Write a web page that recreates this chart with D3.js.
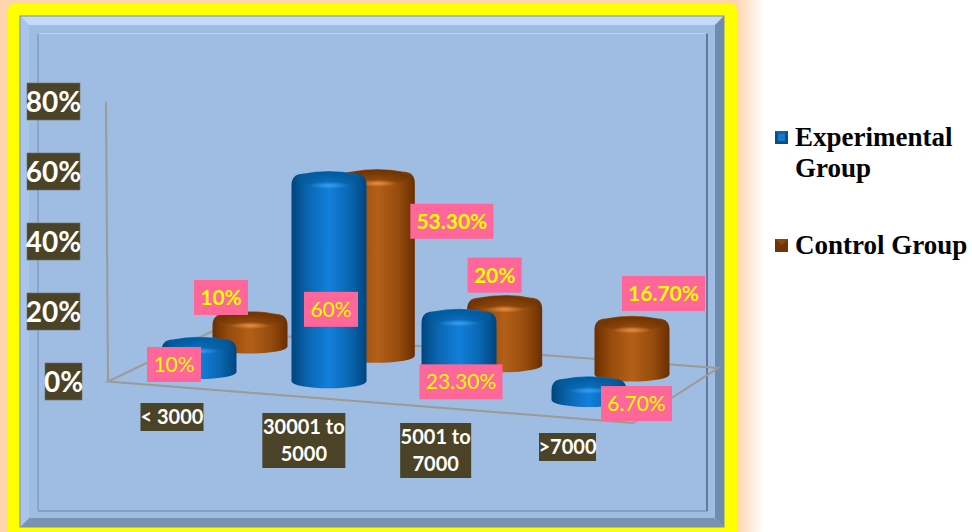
<!DOCTYPE html>
<html>
<head>
<meta charset="utf-8">
<script src="https://cdn.jsdelivr.net/npm/d3@7"></script>
<style>
html, body { margin: 0; padding: 0; background: #fff; }
svg { display: block; }
</style>
</head>
<body>
<svg id="chart" width="972" height="532"></svg>
<script>
// Chart data
const categories = ["< 3000", "30001 to 5000", "5001 to 7000", ">7000"];
const categoryLines = [["< 3000"], ["30001 to", "5000"], ["5001 to", "7000"], [">7000"]];
const seriesNames = ["Experimental Group", "Control Group"];
const experimental = [10, 60, 23.3, 6.7];
const control = [10, 53.3, 20, 16.7];
const experimentalLabels = ["10%", "60%", "23.30%", "6.70%"];
const controlLabels = ["10%", "53.30%", "20%", "16.70%"];
const axisTicks = [0, 20, 40, 60, 80];

// Label box offsets from each cylinder's top-centre
const experimentalLabelOffsets = [[-25, 20.5], [2, 131], [2, 65.7], [47.5, 20]];
const controlLabelOffsets = [[-29, -21], [74.5, 45], [-10, -27], [31.5, -29.5]];

const svg = d3.select("#chart");
const defs = svg.append("defs");

// Projected floor: each series runs along its own line on the floor
const cxBySeries = {
  [seriesNames[0]]: d3.scalePoint().domain(categories).range([199, 589]),
  [seriesNames[1]]: d3.scalePoint().domain(categories).range([250, 632])
};
const baseY = d3.scalePoint().domain(categories).range([379, 407]);
const depthY = d3.scalePoint().domain(seriesNames).range([0, -25.5]);
const labelX = d3.scalePoint().domain(categories).range([172, 567.5]);
const labelTop = d3.scalePoint().domain(categories).range([403, 433]);
const y = d3.scaleLinear().domain([0, 80]).range([381.5, 101.5]);
const height = v => y(0) - y(v);

const palette = {
  [seriesNames[0]]: { edge: "#00457f", mid: "#0a66b0", light: "#1180dc", cap: "#005a9c", glow: "#3aa0f0" },
  [seriesNames[1]]: { edge: "#6a2e00", mid: "#964c0c", light: "#b45f18", cap: "#6c3200", glow: "#e89448" }
};

seriesNames.forEach((name, i) => {
  const p = palette[name];
  const body = defs.append("linearGradient").attr("id", "body" + i);
  [[0, p.edge], [0.22, p.mid], [0.5, p.light], [0.78, p.mid], [1, p.edge]].forEach(([o, c]) =>
    body.append("stop").attr("offset", o).attr("stop-color", c));
  const glow = defs.append("radialGradient").attr("id", "glow" + i);
  glow.append("stop").attr("offset", 0).attr("stop-color", p.glow).attr("stop-opacity", 0.95);
  glow.append("stop").attr("offset", 1).attr("stop-color", p.glow).attr("stop-opacity", 0);
  const shade = defs.append("linearGradient").attr("id", "cap" + i)
    .attr("x1", 0).attr("x2", 0).attr("y1", 0).attr("y2", 1);
  shade.append("stop").attr("offset", 0).attr("stop-color", p.cap);
  shade.append("stop").attr("offset", 1).attr("stop-color", p.cap).attr("stop-opacity", 0.25);
});

// Page surround
svg.append("rect").attr("width", 972).attr("height", 532).attr("fill", "#fff");
svg.append("rect").attr("width", 738).attr("height", 532).attr("fill", "#ffd5ae");
const fadeRight = defs.append("linearGradient").attr("id", "fadeRight");
fadeRight.append("stop").attr("offset", 0).attr("stop-color", "#ffd5ae");
fadeRight.append("stop").attr("offset", 1).attr("stop-color", "#fff");
svg.append("rect").attr("x", 737).attr("width", 26).attr("height", 532).attr("fill", "url(#fadeRight)");
svg.append("rect").attr("x", 8).attr("y", 4).attr("width", 729).attr("height", 540).attr("rx", 6).attr("fill", "#ffff00");

// Bevelled panel
const panel = { x0: 20, y0: 16, x1: 724, y1: 527, bevel: 9 };
const bevelGroup = svg.append("g");
const poly = pts => "M" + pts.map(p => p.join(",")).join("L") + "Z";
const { x0, y0, x1, y1, bevel } = panel;
bevelGroup.append("rect").attr("x", x0).attr("y", y0).attr("width", x1 - x0).attr("height", y1 - y0).attr("fill", "#9fbce2");
bevelGroup.append("path").attr("d", poly([[x0, y0], [x1, y0], [x1 - bevel, y0 + bevel], [x0 + bevel, y0 + bevel]])).attr("fill", "#c3dafa");
bevelGroup.append("path").attr("d", poly([[x1, y0], [x1, y1], [x1 - bevel, y1 - bevel], [x1 - bevel, y0 + bevel]])).attr("fill", "#6f8bad");
bevelGroup.append("path").attr("d", poly([[x0, y1], [x1, y1], [x1 - bevel, y1 - bevel], [x0 + bevel, y1 - bevel]])).attr("fill", "#7a93b4");
bevelGroup.append("path").attr("d", poly([[x0, y0], [x0, y1], [x0 + bevel, y1 - bevel], [x0 + bevel, y0 + bevel]])).attr("fill", "#a9c5ea");
svg.append("rect").attr("x", x0).attr("y", y0).attr("width", x1 - x0).attr("height", y1 - y0).attr("fill", "none").attr("stroke", "#7f8f9f").attr("stroke-width", 1);

// Inset frame
const inner = { x0: 38, y0: 33.5, x1: 707, y1: 511 };
svg.append("path").attr("d", `M${inner.x0},${inner.y0}H${inner.x1}`).attr("fill", "none").attr("stroke", "#b7d0f0").attr("stroke-width", 1.2);
svg.append("path").attr("d", `M${inner.x0},${inner.y0}V${inner.y1}`).attr("fill", "none").attr("stroke", "#7c95b8").attr("stroke-width", 1.2);
svg.append("path").attr("d", `M${inner.x0},${inner.y1}H${inner.x1}`).attr("fill", "none").attr("stroke", "#7d96b9").attr("stroke-width", 1.6);
svg.append("path").attr("d", `M${inner.x1},${inner.y0}V${inner.y1}`).attr("fill", "none").attr("stroke", "#55688a").attr("stroke-width", 1.6);

// Floor and vertical wall line
const floorCorners = [[108, 381.5], [633, 423], [718, 368], [213, 331]];
const lineGen = d3.line();
svg.append("path").attr("d", lineGen(floorCorners) + "Z").attr("fill", "none").attr("stroke", "#9b9b93").attr("stroke-width", 2);
svg.append("line").attr("x1", 106).attr("y1", y(80)).attr("x2", 108).attr("y2", y(0)).attr("stroke", "#9b9b93").attr("stroke-width", 2);

// Cylinders: control series sits behind the experimental one
const RX = 37.5, RY = 7;
const rows = (name, values) => categories.map((c, i) => ({
  c, i, name, value: values[i],
  x: cxBySeries[name](c),
  bottom: baseY(c) + depthY(name)
}));

function drawCylinders(name, values, idx) {
  const g = svg.append("g").attr("class", "series-" + idx);
  const cyl = g.selectAll("g").data(rows(name, values)).join("g");
  const topY = d => d.bottom - height(d.value);
  // Body with rounded shoulders and elliptical foot
  cyl.append("path")
    .attr("d", d => {
      const t = topY(d), l = d.x - RX, r = d.x + RX, s = Math.min(7, height(d.value) * 0.3);
      return `M${l},${t + s}Q${l},${t - 4} ${l + 11},${t - 4.5}Q${d.x},${t - 10} ${r - 11},${t - 4.5}Q${r},${t - 4} ${r},${t + s}` +
        `L${r},${d.bottom - RY}A${RX},${RY} 0 0 1 ${l},${d.bottom - RY}Z`;
    })
    .attr("fill", `url(#body${idx})`);
  // Darker top face
  cyl.append("ellipse")
    .attr("cx", d => d.x).attr("cy", d => topY(d) + 0.5)
    .attr("rx", RX - 6).attr("ry", 7)
    .attr("fill", `url(#cap${idx})`);
  // Highlight on the shoulder
  cyl.append("ellipse")
    .attr("cx", d => d.x).attr("cy", d => topY(d) + 7)
    .attr("rx", 20).attr("ry", 3.5)
    .attr("fill", `url(#glow${idx})`);
}
drawCylinders(seriesNames[1], control, 1);
drawCylinders(seriesNames[0], experimental, 0);

// Value labels
function drawValueLabels(name, values, texts, offsets, weight) {
  const data = rows(name, values).map(d => ({ ...d, text: texts[d.i], off: offsets[d.i] }));
  const g = svg.append("g").selectAll("g").data(data).join("g")
    .attr("transform", d => `translate(${d.x + d.off[0]},${d.bottom - height(d.value) + d.off[1]})`);
  const w = t => t.length > 3 ? (t.length > 5 ? 83 : 71) : 54;
  g.append("rect").attr("x", d => -w(d.text) / 2).attr("y", -17.5).attr("width", d => w(d.text)).attr("height", 35).attr("fill", "#ff6699");
  g.append("text").attr("text-anchor", "middle").attr("y", 7.5)
    .attr("font-family", "Lato, Carlito, sans-serif").attr("font-size", 21).attr("font-weight", weight)
    .attr("fill", "#ffff00").text(d => d.text);
}
drawValueLabels(seriesNames[1], control, controlLabels, controlLabelOffsets, 700);
drawValueLabels(seriesNames[0], experimental, experimentalLabels, experimentalLabelOffsets, 400);

// Value axis tick boxes
const tickG = svg.append("g").selectAll("g").data(axisTicks).join("g")
  .attr("transform", d => `translate(${d === 0 ? 63.5 : 53.5},${y(d)})`);
tickG.append("rect").attr("x", d => d === 0 ? -18.5 : -26.5).attr("y", -18.5)
  .attr("width", d => d === 0 ? 37 : 53).attr("height", 37).attr("fill", "#4b4327").attr("stroke", "#6f6f60").attr("stroke-width", 0.6);
tickG.append("text").attr("text-anchor", "middle").attr("y", 10)
  .attr("font-family", "Lato, Carlito, sans-serif").attr("font-size", 28).attr("font-weight", 700)
  .attr("fill", "#fff").text(d => d + "%");

// Category boxes
const catG = svg.append("g").selectAll("g").data(categories).join("g")
  .attr("transform", c => `translate(${labelX(c)},${labelTop(c)})`);
const catWidth = [63, 83, 71, 57];
catG.append("rect")
  .attr("x", (c, i) => -catWidth[i] / 2).attr("y", 0)
  .attr("width", (c, i) => catWidth[i])
  .attr("height", (c, i) => categoryLines[i].length === 1 ? 28 : 55)
  .attr("fill", "#4b4327");
catG.each(function (c, i) {
  d3.select(this).selectAll("text").data(categoryLines[i]).join("text")
    .attr("text-anchor", "middle").attr("y", (l, k) => 21 + k * 27)
    .attr("font-family", "Lato, Carlito, sans-serif").attr("font-size", 20).attr("font-weight", 700)
    .attr("fill", "#fff").text(l => l);
});

// Legend
const swatchFill = [
  { top: "#0f62a8", side: "#0a4f8c", centre: "#1a78c8" },
  { top: "#8a4410", side: "#6e3406", centre: "#5a2a04" }
];
const legend = svg.append("g").selectAll("g").data(seriesNames).join("g");
const legendY = [131, 239];
legend.each(function (name, i) {
  const g = d3.select(this).attr("transform", `translate(775,${legendY[i]})`);
  const c = swatchFill[i];
  g.append("rect").attr("width", 13).attr("height", 13).attr("fill", c.side);
  g.append("path").attr("d", "M0,0H13L6.5,6.5Z").attr("fill", c.top);
  g.append("rect").attr("x", 3).attr("y", 3).attr("width", 7).attr("height", 7).attr("fill", c.centre).attr("opacity", i === 0 ? 1 : 0);
});
const legendLines = [["Experimental", "Group"], ["Control Group"]];
legend.each(function (name, i) {
  d3.select(this).selectAll("text").data(legendLines[i]).join("text")
    .attr("x", 20).attr("y", (l, k) => 14.5 + k * 31)
    .attr("font-family", "'Liberation Serif', serif").attr("font-size", 27).attr("font-weight", 700)
    .attr("fill", "#000").text(l => l);
});
</script>
</body>
</html>
